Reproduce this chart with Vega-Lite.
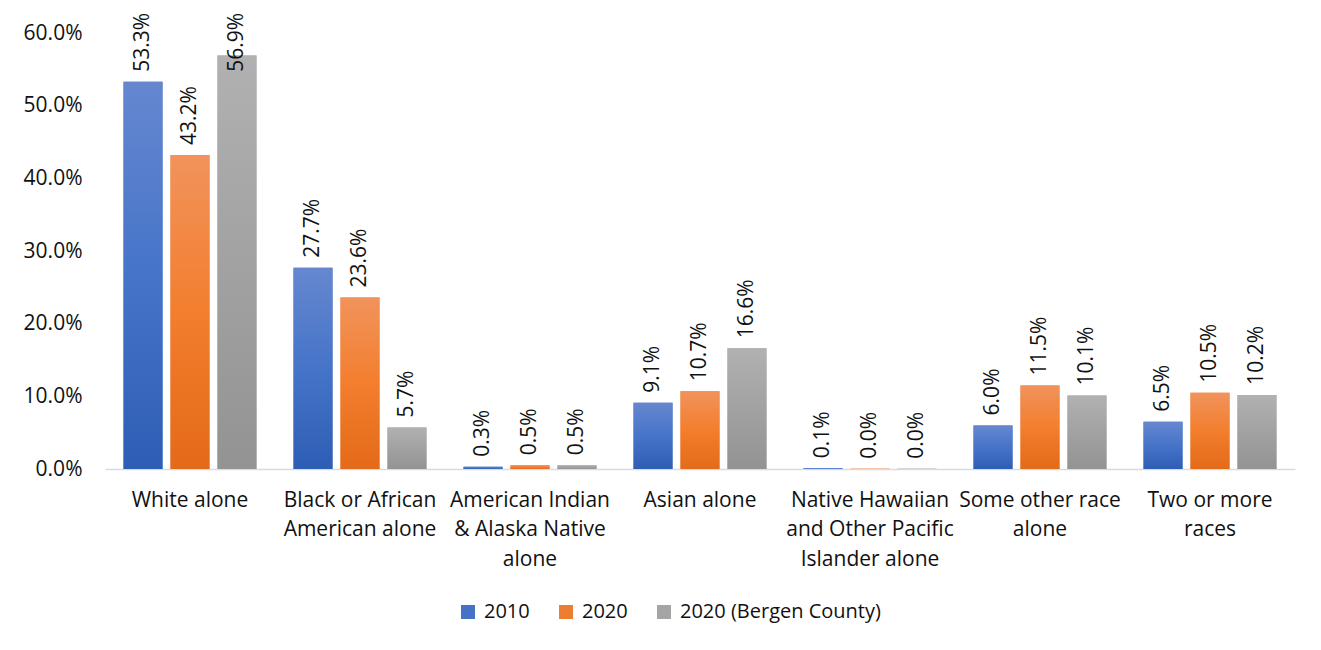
{
  "$schema": "https://vega.github.io/schema/vega-lite/v6.json",
  "width": 1190,
  "height": 436,
  "autosize": {"type": "none"},
  "padding": {"left": 105, "top": 33, "right": 26, "bottom": 181},
  "background": "#ffffff",
  "config": {
    "view": {"stroke": null},
    "font": "Open Sans",
    "axis": {"labelFont": "Open Sans", "labelColor": "#111111", "labelFontSize": 21, "grid": false, "ticks": false, "title": null}
  },
  "data": {
    "values": [
      {"cat": "White alone", "series": "2010", "value": 0.533},
      {"cat": "White alone", "series": "2020", "value": 0.432},
      {"cat": "White alone", "series": "2020 (Bergen County)", "value": 0.569},
      {"cat": "Black or African|American alone", "series": "2010", "value": 0.277},
      {"cat": "Black or African|American alone", "series": "2020", "value": 0.236},
      {"cat": "Black or African|American alone", "series": "2020 (Bergen County)", "value": 0.057},
      {"cat": "American Indian|& Alaska Native|alone", "series": "2010", "value": 0.003},
      {"cat": "American Indian|& Alaska Native|alone", "series": "2020", "value": 0.005},
      {"cat": "American Indian|& Alaska Native|alone", "series": "2020 (Bergen County)", "value": 0.005},
      {"cat": "Asian alone", "series": "2010", "value": 0.091},
      {"cat": "Asian alone", "series": "2020", "value": 0.107},
      {"cat": "Asian alone", "series": "2020 (Bergen County)", "value": 0.166},
      {"cat": "Native Hawaiian|and Other Pacific|Islander alone", "series": "2010", "value": 0.001},
      {"cat": "Native Hawaiian|and Other Pacific|Islander alone", "series": "2020", "value": 0.0003},
      {"cat": "Native Hawaiian|and Other Pacific|Islander alone", "series": "2020 (Bergen County)", "value": 0.0003},
      {"cat": "Some other race|alone", "series": "2010", "value": 0.060},
      {"cat": "Some other race|alone", "series": "2020", "value": 0.115},
      {"cat": "Some other race|alone", "series": "2020 (Bergen County)", "value": 0.101},
      {"cat": "Two or more|races", "series": "2010", "value": 0.065},
      {"cat": "Two or more|races", "series": "2020", "value": 0.105},
      {"cat": "Two or more|races", "series": "2020 (Bergen County)", "value": 0.102}
    ]
  },
  "encoding": {
    "x": {
      "field": "cat", "type": "nominal", "sort": null,
      "scale": {"paddingInner": 0.218, "paddingOuter": 0.109},
      "axis": {"labelAngle": 0, "labelExpr": "split(datum.label, '|')", "labelBaseline": "top", "labelPadding": 20, "labelLineHeight": 29.5, "domainColor": "#d6dce5", "domainWidth": 1.5, "labelLimit": 300}
    },
    "xOffset": {"field": "series", "type": "nominal", "scale": {"paddingInner": 0.17, "paddingOuter": 0}},
    "y": {
      "field": "value", "type": "quantitative",
      "scale": {"domain": [0, 0.6], "nice": false},
      "axis": {"values": [0, 0.1, 0.2, 0.3, 0.4, 0.5, 0.6], "format": ".1%", "domain": false, "labelPadding": 23}
    }
  },
  "layer": [
    {
      "mark": {"type": "bar"},
      "encoding": {
        "color": {
          "field": "series", "type": "nominal",
          "scale": {"domain": ["2010", "2020", "2020 (Bergen County)"], "range": ["#4472c4", "#ed7d31", "#a5a5a5"]},
          "legend": {"orient": "none", "legendX": 353, "legendY": 569, "direction": "horizontal", "title": null, "symbolType": "square", "symbolSize": 196, "symbolStrokeWidth": 0, "labelFontSize": 20, "labelFont": "Open Sans", "labelColor": "#111111", "labelOffset": 6, "columnPadding": 26, "labelLimit": 400}
        }
      }
    },
    {
      "transform": [{"filter": "datum.series == '2010'"}],
      "mark": {"type": "bar", "color": {"gradient": "linear", "x1": 0, "y1": 0, "x2": 0, "y2": 1, "stops": [{"offset": 0, "color": "#6687d0"}, {"offset": 0.5, "color": "#4574c8"}, {"offset": 1, "color": "#2e5db5"}]}}
    },
    {
      "transform": [{"filter": "datum.series == '2020'"}],
      "mark": {"type": "bar", "color": {"gradient": "linear", "x1": 0, "y1": 0, "x2": 0, "y2": 1, "stops": [{"offset": 0, "color": "#f1935c"}, {"offset": 0.5, "color": "#f37e2e"}, {"offset": 1, "color": "#e36a18"}]}}
    },
    {
      "transform": [{"filter": "datum.series == '2020 (Bergen County)'"}],
      "mark": {"type": "bar", "color": {"gradient": "linear", "x1": 0, "y1": 0, "x2": 0, "y2": 1, "stops": [{"offset": 0, "color": "#b1b1b1"}, {"offset": 1, "color": "#939393"}]}}
    },
    {
      "transform": [{"calculate": "min(datum.value, 0.533)", "as": "labelPos"}],
      "mark": {"type": "text", "angle": 270, "align": "left", "baseline": "middle", "dx": 10, "fontSize": 21, "font": "Open Sans", "color": "#111111"},
      "encoding": {
        "y": {"field": "labelPos", "type": "quantitative"},
        "text": {"field": "value", "type": "quantitative", "format": ".1%"}
      }
    }
  ]
}
